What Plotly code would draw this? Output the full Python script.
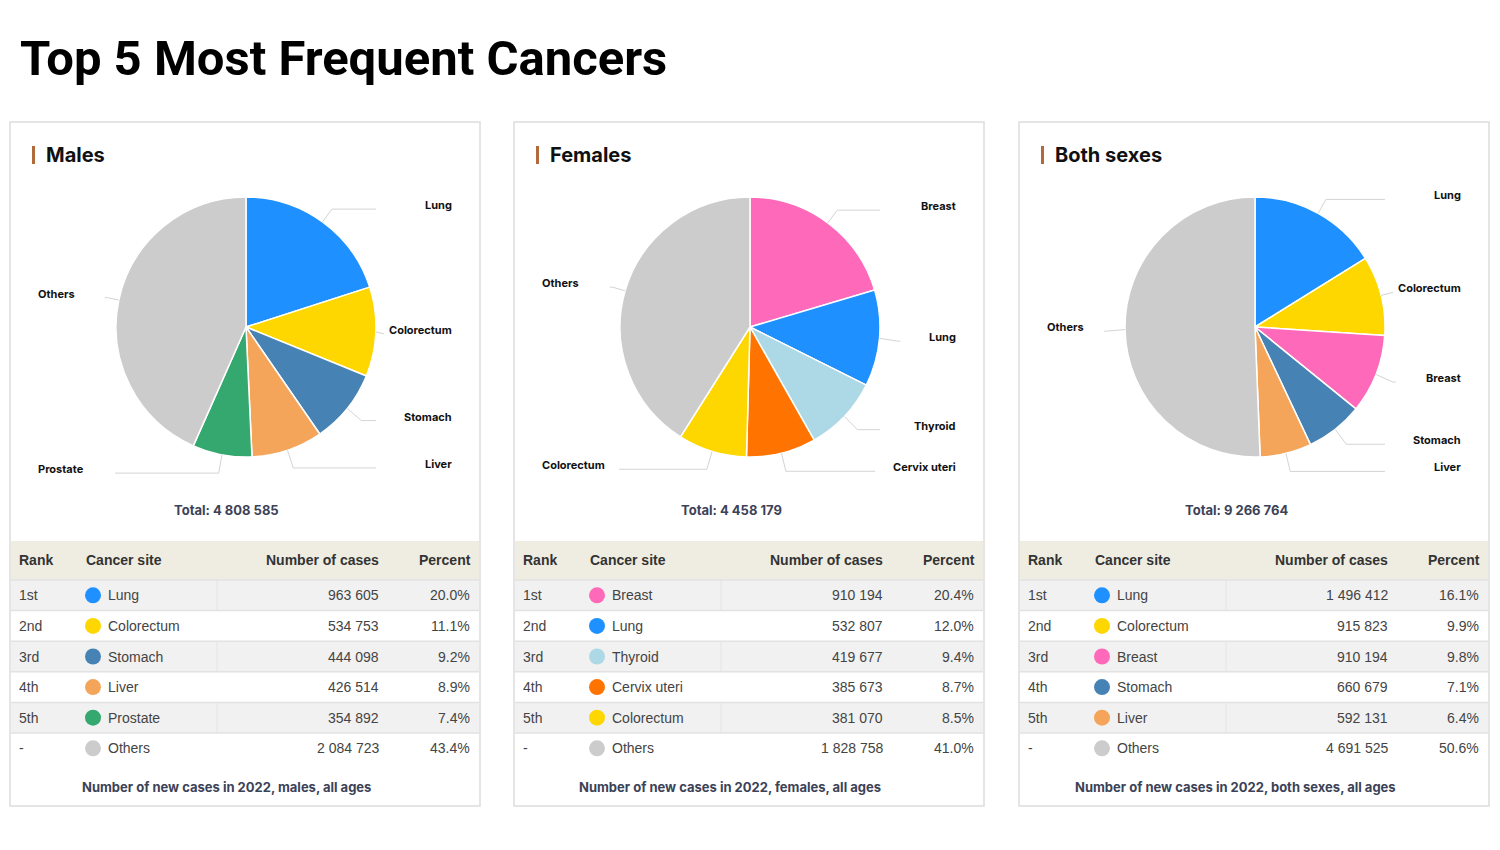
"""
Top 5 most frequent cancers (2022) - three pie panels with rank tables.
"""

import math
import plotly.graph_objects as go

W, H = 1500, 850

# ---- data -------------------------------------------------------------
panel_titles = ["Males", "Females", "Both sexes"]
footer_groups = ["males", "females", "both sexes"]
ranks = ["1st", "2nd", "3rd", "4th", "5th", "-"]

males_sites = ["Lung", "Colorectum", "Stomach", "Liver", "Prostate", "Others"]
males_cases = [963605, 534753, 444098, 426514, 354892, 2084723]

females_sites = ["Breast", "Lung", "Thyroid", "Cervix uteri", "Colorectum", "Others"]
females_cases = [910194, 532807, 419677, 385673, 381070, 1828758]

both_sites = ["Lung", "Colorectum", "Breast", "Stomach", "Liver", "Others"]
both_cases = [1496412, 915823, 910194, 660679, 592131, 4691525]

# ---- styling ----------------------------------------------------------
site_colors = {
    "Lung": "#1e90ff",
    "Colorectum": "#ffd700",
    "Stomach": "#4682b4",
    "Liver": "#f4a55a",
    "Prostate": "#34a86f",
    "Breast": "#ff69b9",
    "Thyroid": "#add8e6",
    "Cervix uteri": "#ff7300",
    "Others": "#cccccc",
}

GEO_FONT = "Inter, Open Sans, sans-serif"
TABLE_FONT = "Liberation Sans, Arial, sans-serif"
TEXT_DARK = "#3c4257"

panel_left = [10, 514, 1019]
PANEL_W = 470
PANEL_TOP, PANEL_BOTTOM = 122, 806
PIE_CY, PIE_R = 327, 130
HEADER_TOP, HEADER_BOTTOM = 541, 580
ROW_H = 30.6
PAD = 2  # annotation boxes carry a small inner padding


def fx(px):
    return px / W


def fy(py):
    return 1 - py / H


def fmt(v):
    return f"{v:,}".replace(",", " ")


def text_x(px, anchor):
    if anchor == "left":
        return fx(px - PAD)
    if anchor == "right":
        return fx(px + PAD)
    return fx(px)


panels = [
    (males_sites, males_cases),
    (females_sites, females_cases),
    (both_sites, both_cases),
]

fig = go.Figure()
shapes = []
annotations = []

# main title
annotations.append(dict(
    x=text_x(20, "left"), y=fy(58), xref="paper", yref="paper", xanchor="left", yanchor="middle",
    text="Top 5 Most Frequent Cancers", showarrow=False,
    font=dict(family="Roboto, sans-serif", size=49, color="#000000", weight=700),
))

for p, (sites, cases) in enumerate(panels):
    x0 = panel_left[p]
    cx = x0 + 236
    total = sum(cases)
    colors = [site_colors[s] for s in sites]

    # panel frame
    shapes.append(dict(type="rect", xref="paper", yref="paper",
                       x0=fx(x0), x1=fx(x0 + PANEL_W), y0=fy(PANEL_TOP), y1=fy(PANEL_BOTTOM),
                       line=dict(color="#dddddd", width=1.5), fillcolor="rgba(0,0,0,0)", layer="below"))

    # panel heading with accent bar
    shapes.append(dict(type="rect", xref="paper", yref="paper",
                       x0=fx(x0 + 22), x1=fx(x0 + 25), y0=fy(146), y1=fy(164),
                       line=dict(width=0), fillcolor="#b06a3b"))
    annotations.append(dict(
        x=text_x(x0 + 36, "left"), y=fy(155), xref="paper", yref="paper", xanchor="left", yanchor="middle",
        text=panel_titles[p], showarrow=False,
        font=dict(family=GEO_FONT, size=20, color="#111111", weight=700),
    ))

    # pie
    fig.add_trace(go.Pie(
        labels=sites, values=cases, sort=False, direction="clockwise", rotation=0,
        marker=dict(colors=colors, line=dict(color="#ffffff", width=1.5)),
        textinfo="none", hoverinfo="label+value+percent", showlegend=False,
        domain=dict(x=[fx(cx - PIE_R), fx(cx + PIE_R)], y=[fy(PIE_CY + PIE_R), fy(PIE_CY - PIE_R)]),
    ))

    # outside labels with leader lines
    cum = 0
    for site, v in zip(sites, cases):
        mid = (cum + v / 2) / total
        cum += v
        th = 2 * math.pi * mid
        s, c = math.sin(th), math.cos(th)
        right = s >= 0
        ly = PIE_CY - 2.75 - 147.4 * c
        line_y = ly + 4
        ex, ey = cx + PIE_R * s, PIE_CY - PIE_R * c
        dist = (line_y - ey) / (-c) if abs(c) > 1e-6 else 18
        dist = min(max(dist, 0), 18)
        bx = ex + dist * s
        text_w = len(site) * 6.4
        if right:
            lx = cx + 206
            end = max(cx + 130, bx + 3)
            lim = lx - text_w - 4
            bx, end = min(bx, lim), min(end, lim)
        else:
            lx = cx - 208
            end = min(cx - 131, bx - 3)
            lim = lx + text_w + 4
            bx, end = max(bx, lim), max(end, lim)
        path = (f"M {fx(ex)} {fy(ey)} L {fx(bx)} {fy(line_y)} L {fx(end)} {fy(line_y)}")
        shapes.append(dict(type="path", xref="paper", yref="paper", path=path,
                           line=dict(color="#d4d4d4", width=1)))
        anchor = "right" if right else "left"
        annotations.append(dict(
            x=text_x(lx, anchor), y=fy(ly), xref="paper", yref="paper",
            xanchor=anchor, yanchor="middle",
            text=site, showarrow=False,
            font=dict(family=GEO_FONT, size=11, color="#111111", weight=700),
        ))

    # total
    annotations.append(dict(
        x=fx(cx - 19), y=fy(510), xref="paper", yref="paper", xanchor="center", yanchor="middle",
        text=f"Total: {fmt(total)}", showarrow=False,
        font=dict(family=GEO_FONT, size=13, color=TEXT_DARK, weight=700),
    ))

    # table header
    shapes.append(dict(type="rect", xref="paper", yref="paper",
                       x0=fx(x0 + 1), x1=fx(x0 + PANEL_W - 1), y0=fy(HEADER_TOP), y1=fy(HEADER_BOTTOM),
                       line=dict(width=0), fillcolor="#efede2", layer="below"))
    header = [("Rank", x0 + 9, "left"), ("Cancer site", x0 + 76, "left"),
              ("Number of cases", x0 + 369, "right"), ("Percent", x0 + 461, "right")]
    for txt, hx, anchor in header:
        annotations.append(dict(
            x=text_x(hx, anchor), y=fy(560), xref="paper", yref="paper", xanchor=anchor, yanchor="middle",
            text=txt, showarrow=False,
            font=dict(family=TABLE_FONT, size=14, color="#333333", weight=700),
        ))

    # table rows
    for i, (site, v) in enumerate(zip(sites, cases)):
        top = HEADER_BOTTOM + i * ROW_H
        yc = top + ROW_H / 2
        if i % 2 == 0:
            shapes.append(dict(type="rect", xref="paper", yref="paper",
                               x0=fx(x0 + 1), x1=fx(x0 + PANEL_W - 1), y0=fy(top), y1=fy(top + ROW_H),
                               line=dict(width=0), fillcolor="#f1f1f1", layer="below"))
            shapes.append(dict(type="line", xref="paper", yref="paper",
                               x0=fx(x0 + 207), x1=fx(x0 + 207), y0=fy(top), y1=fy(top + ROW_H),
                               line=dict(color="#e4e4e4", width=1), layer="below"))
        shapes.append(dict(type="line", xref="paper", yref="paper",
                           x0=fx(x0 + 1), x1=fx(x0 + PANEL_W - 1), y0=fy(top), y1=fy(top),
                           line=dict(color="#e2e2e2", width=1.5), layer="below"))
        shapes.append(dict(type="circle", xref="paper", yref="paper",
                           x0=fx(x0 + 75), x1=fx(x0 + 91), y0=fy(yc - 8), y1=fy(yc + 8),
                           line=dict(width=0), fillcolor=site_colors[site]))
        cells = [(ranks[i], x0 + 9, "left"), (site, x0 + 98, "left"),
                 (fmt(v), x0 + 369, "right"), (f"{100 * v / total:.1f}%", x0 + 460, "right")]
        for txt, tx, anchor in cells:
            annotations.append(dict(
                x=text_x(tx, anchor), y=fy(yc), xref="paper", yref="paper", xanchor=anchor, yanchor="middle",
                text=txt, showarrow=False,
                font=dict(family=TABLE_FONT, size=14, color="#444444"),
            ))

    # footer
    annotations.append(dict(
        x=fx(cx - 20), y=fy(787), xref="paper", yref="paper", xanchor="center", yanchor="middle",
        text=f"Number of new cases in 2022, {footer_groups[p]}, all ages", showarrow=False,
        font=dict(family=GEO_FONT, size=13, color=TEXT_DARK, weight=700),
    ))

fig.update_layout(
    width=W, height=H,
    margin=dict(l=0, r=0, t=0, b=0),
    paper_bgcolor="#ffffff", plot_bgcolor="#ffffff",
    shapes=shapes, annotations=annotations,
    showlegend=False,
)

fig.write_html("out.html", config={"displayModeBar": False},
               post_script="document.body.style.margin='0';")
